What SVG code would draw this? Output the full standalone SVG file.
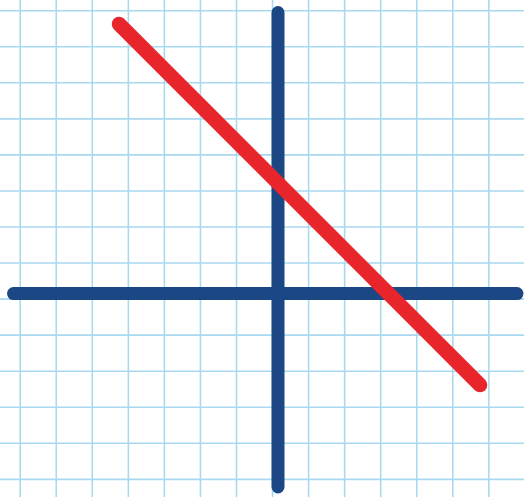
<svg xmlns="http://www.w3.org/2000/svg" width="524" height="497" viewBox="0 0 524 497">
<style>
.grid{stroke:#a9d9ef;stroke-width:1.6;fill:none}
.axis{stroke:#1b4885;stroke-width:13;stroke-linecap:round;fill:none}
.line{stroke:#e7252b;stroke-width:14.5;stroke-linecap:round;fill:none}
</style>
<rect width="524" height="497" fill="#ffffff"/>
<g id="grid">
<path class="grid" d="M20.2 0V497M56.25 0V497M92.3 0V497M128.35 0V497M164.4 0V497M200.45 0V497M236.5 0V497M272.55 0V497M308.6 0V497M344.65 0V497M380.7 0V497M416.75 0V497M452.8 0V497M488.85 0V497"/>
<path class="grid" d="M0 10.7H524M0 46.75H524M0 82.8H524M0 118.85H524M0 154.9H524M0 190.95H524M0 227H524M0 263.05H524M0 299.1H524M0 335.15H524M0 371.2H524M0 407.25H524M0 443.3H524M0 479.35H524"/>
</g>
<g id="axes">
<line id="x-axis" class="axis" x1="13.5" y1="293.6" x2="517" y2="293.6"/>
<line id="y-axis" class="axis" x1="278" y1="12.5" x2="278" y2="487"/>
</g>
<g id="red-line">
<line class="line" x1="119" y1="24" x2="480" y2="385"/>
</g>
</svg>
